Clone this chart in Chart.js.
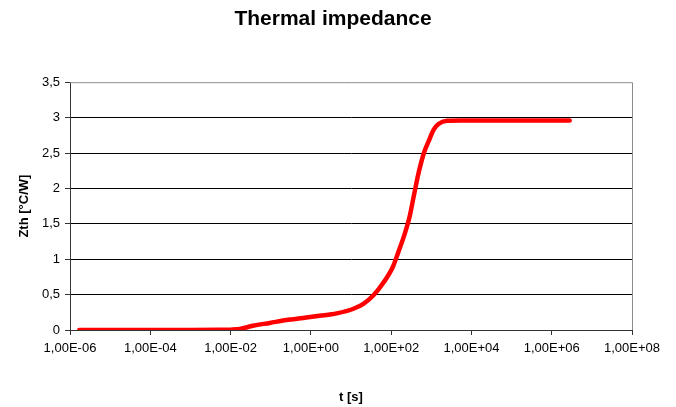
<!DOCTYPE html>
<html>
<head>
<meta charset="utf-8">
<script src="https://cdn.jsdelivr.net/npm/chart.js@4"></script>
<style>
  html, body { margin: 0; padding: 0; background: #fff; }
  #wrap { width: 676px; height: 407px; }
</style>
</head>
<body>
<div id="wrap"><canvas id="chart" width="676" height="407"></canvas></div>
<script>
// time [s] and thermal impedance [°C/W]
const times = [1.7e-6, 1e-5, 1e-4, 1e-3, 5e-3, 1e-2, 0.017, 0.036, 0.095, 0.245, 0.65, 1.66, 4.4, 11.5, 20.4, 36.3, 64.6, 110, 151, 224, 288, 363, 479, 646, 851, 1148, 1514, 2455, 5370, 1e5, 1e6, 2.8e6]
const zth = [0, 0, 0, 0, 0.002, 0.005, 0.014, 0.06, 0.10, 0.14, 0.17, 0.20, 0.235, 0.30, 0.37, 0.49, 0.67, 0.89, 1.1, 1.38, 1.6, 1.88, 2.21, 2.49, 2.66, 2.83, 2.91, 2.955, 2.96, 2.96, 2.96, 2.96]

// x tick positions, every two decades
const xTicks = [1e-6, 1e-4, 1e-2, 1e0, 1e2, 1e4, 1e6, 1e8]

const fontFamily = '"Liberation Sans", Arial, sans-serif'

// Excel style scientific label, e.g. 1,00E-06
const sciLabel = (v) => {
  const exp = Math.round(Math.log10(v))
  const mant = v / Math.pow(10, exp)
  const sign = exp < 0 ? '-' : '+'
  const e = String(Math.abs(exp)).padStart(2, '0')
  return mant.toFixed(2).replace('.', ',') + 'E' + sign + e
}

// gray frame on the top and right of the plot area
const plotFrame = {
  id: 'plotFrame',
  afterDraw(chart) {
    const { ctx, chartArea: a } = chart
    ctx.save()
    ctx.strokeStyle = '#8c8c8c'
    ctx.lineWidth = 1
    ctx.beginPath()
    ctx.moveTo(a.left, a.top + 0.5)
    ctx.lineTo(a.right + 0.5, a.top + 0.5)
    ctx.lineTo(a.right + 0.5, a.bottom)
    ctx.stroke()
    ctx.restore()
  }
}

new Chart(document.getElementById('chart'), {
  type: 'line',
  data: {
    datasets: [{
      data: times.map((t, i) => ({ x: t, y: zth[i] })),
      borderColor: '#ff0000',
      borderWidth: 4.5,
      pointRadius: 0,
      cubicInterpolationMode: 'monotone',
      borderCapStyle: 'round',
      borderJoinStyle: 'round'
    }]
  },
  options: {
    responsive: false,
    animation: false,
    layout: { padding: { left: 0, right: 10, top: 0, bottom: 0 } },
    plugins: {
      legend: { display: false },
      tooltip: { enabled: false },
      title: {
        display: true,
        text: 'Thermal impedance',
        color: '#000',
        font: { family: fontFamily, size: 21, weight: 'bold' },
        padding: { top: 7, bottom: 50 }
      }
    },
    scales: {
      x: {
        type: 'logarithmic',
        min: 1e-6,
        max: 1e8,
        afterBuildTicks: (scale) => { scale.ticks = xTicks.map(v => ({ value: v })) },
        afterFit: (scale) => { scale.height = 77 },
        ticks: {
          color: '#000',
          font: { family: fontFamily, size: 13 },
          padding: 6,
          maxRotation: 0,
          autoSkip: false,
          callback: (v) => sciLabel(v)
        },
        grid: {
          drawOnChartArea: false,
          drawTicks: true,
          tickLength: 5,
          tickColor: '#333'
        },
        border: { display: true, color: '#333', width: 1 },
        title: {
          display: true,
          text: 't [s]',
          color: '#000',
          font: { family: fontFamily, size: 13, weight: 'bold' },
          padding: { top: 0, bottom: 2 }
        }
      },
      y: {
        min: 0,
        max: 3.5,
        afterFit: (scale) => { scale.width = 70 },
        ticks: {
          stepSize: 0.5,
          color: '#000',
          font: { family: fontFamily, size: 13 },
          padding: 5,
          callback: (v) => String(v).replace('.', ',')
        },
        grid: {
          color: (c) => c.tick && c.tick.value === 3.5 ? 'rgba(0,0,0,0)' : '#000',
          drawTicks: true,
          tickLength: 5,
          tickColor: '#333'
        },
        border: { display: true, color: '#333', width: 1 },
        title: {
          display: true,
          text: 'Zth [°C/W]',
          color: '#000',
          font: { family: fontFamily, size: 13, weight: 'bold' },
          padding: { top: 17, bottom: 0 }
        }
      },
      // empty space on the right so the title centres like the original
      yRight: {
        position: 'right',
        display: true,
        afterFit: (scale) => { scale.width = 34 },
        ticks: { display: false },
        grid: { drawOnChartArea: false, drawTicks: false },
        border: { display: false }
      }
    }
  },
  plugins: [plotFrame]
})
</script>
</body>
</html>
